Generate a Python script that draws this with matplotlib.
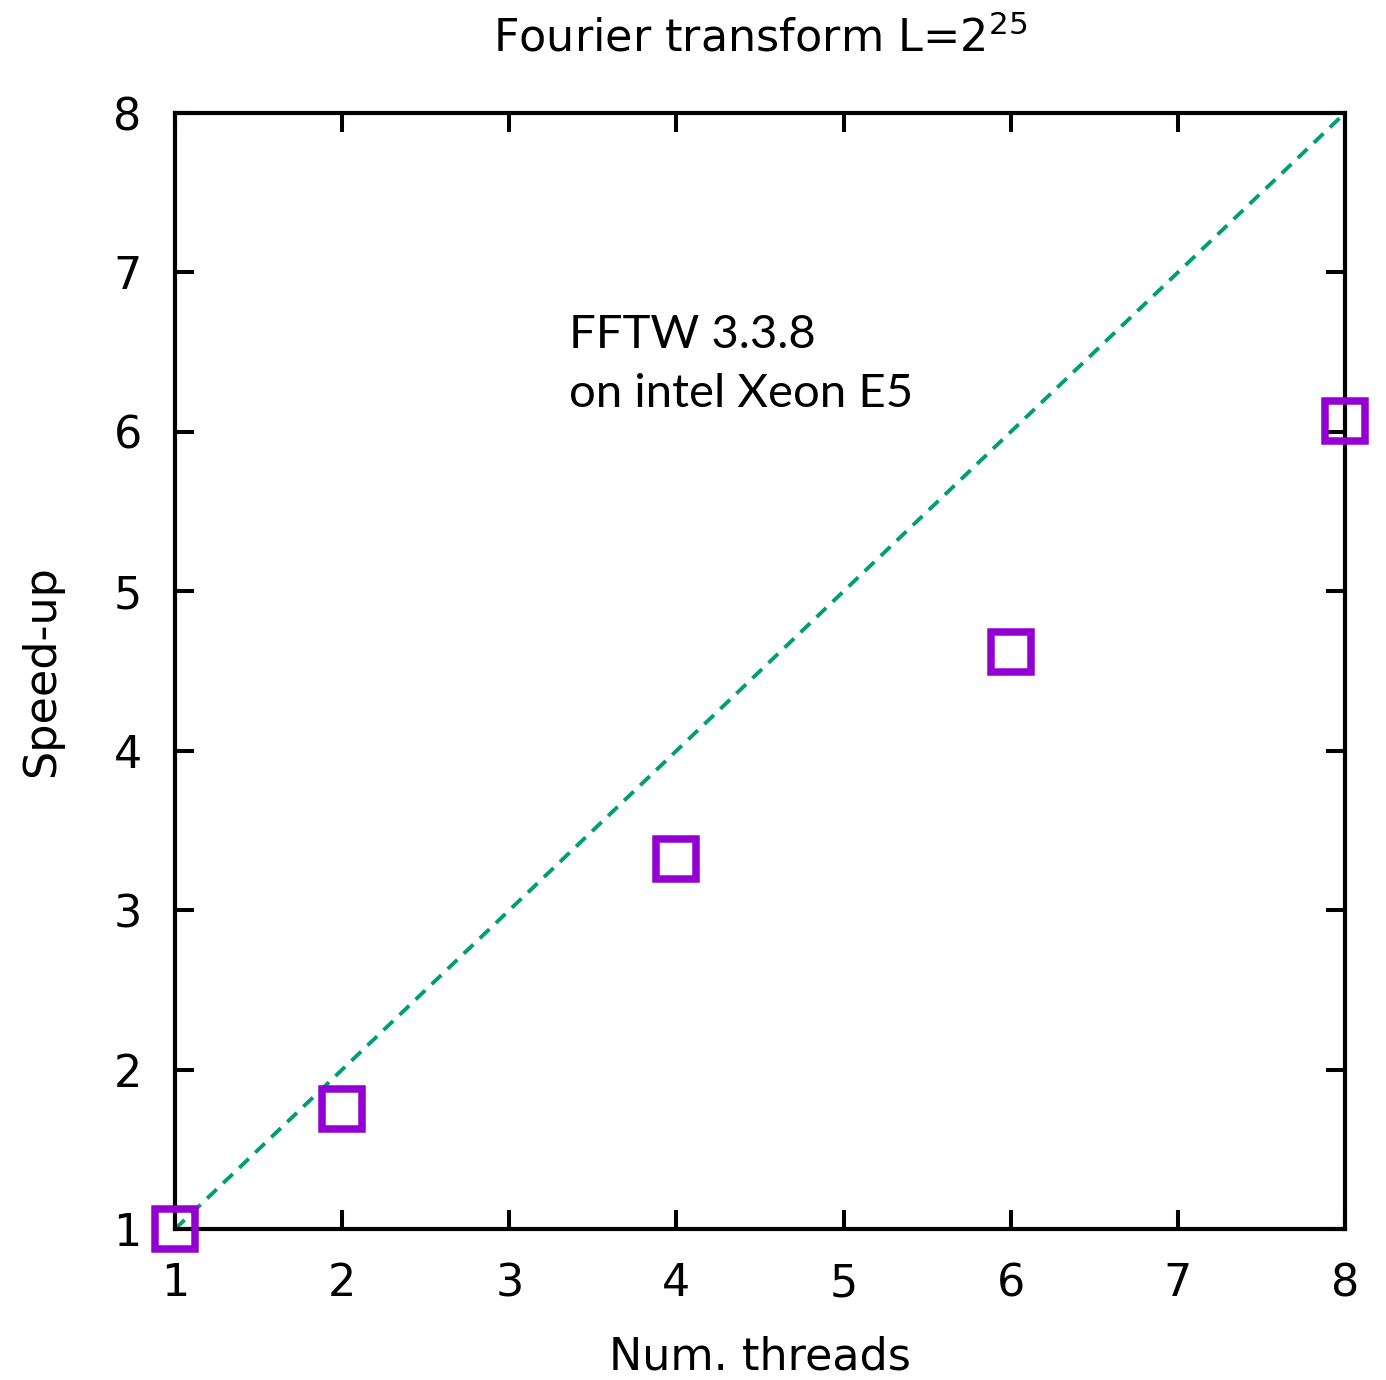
import matplotlib.pyplot as plt

# speed-up measurements of the threaded FFT
threads = [1, 2, 4, 6, 8]
speedup = [1.0, 1.75, 3.32, 4.62, 6.07]

# ideal linear scaling
ideal_x = [1, 8]
ideal_y = [1, 8]

xticks = [1, 2, 3, 4, 5, 6, 7, 8]
yticks = [1, 2, 3, 4, 5, 6, 7, 8]

plt.rcParams['font.family'] = ['DejaVu Sans']

fig = plt.figure(figsize=(13.86, 13.80), dpi=100)
ax = fig.add_axes([0.1263, 0.1094, 0.9704 - 0.1263, 0.9181 - 0.1094])

ax.plot(ideal_x, ideal_y, color='#009E73', lw=2.8, dashes=(3.4, 2.3), zorder=2)
ax.plot(threads, speedup, ls='none', marker='s', ms=29.5, mfc='none',
        mec='#9400D3', mew=5.4, clip_on=False, zorder=3)

ax.set_xlim(1, 8)
ax.set_ylim(1, 8)
ax.set_xticks(xticks)
ax.set_yticks(yticks)
ax.tick_params(direction='in', length=14, width=2.9, labelsize=32,
               top=True, right=True)
ax.tick_params(axis='x', pad=24)
ax.tick_params(axis='y', pad=24)
for s in ax.spines.values():
    s.set_linewidth(3.0)

ax.set_xlabel('Num. threads', fontsize=32, labelpad=22)
ax.set_ylabel('Speed-up', fontsize=32, labelpad=36)
ax.set_title(r'Fourier transform L=2$^{25}$', fontsize=32, pad=44)

ax.text(3.36, 6.74, 'FFTW 3.3.8\non intel Xeon E5', fontsize=34,
        family=['Lato', 'DejaVu Sans'], va='top', ha='left',
        linespacing=1.5)

fig.savefig('out.png', dpi=100)
